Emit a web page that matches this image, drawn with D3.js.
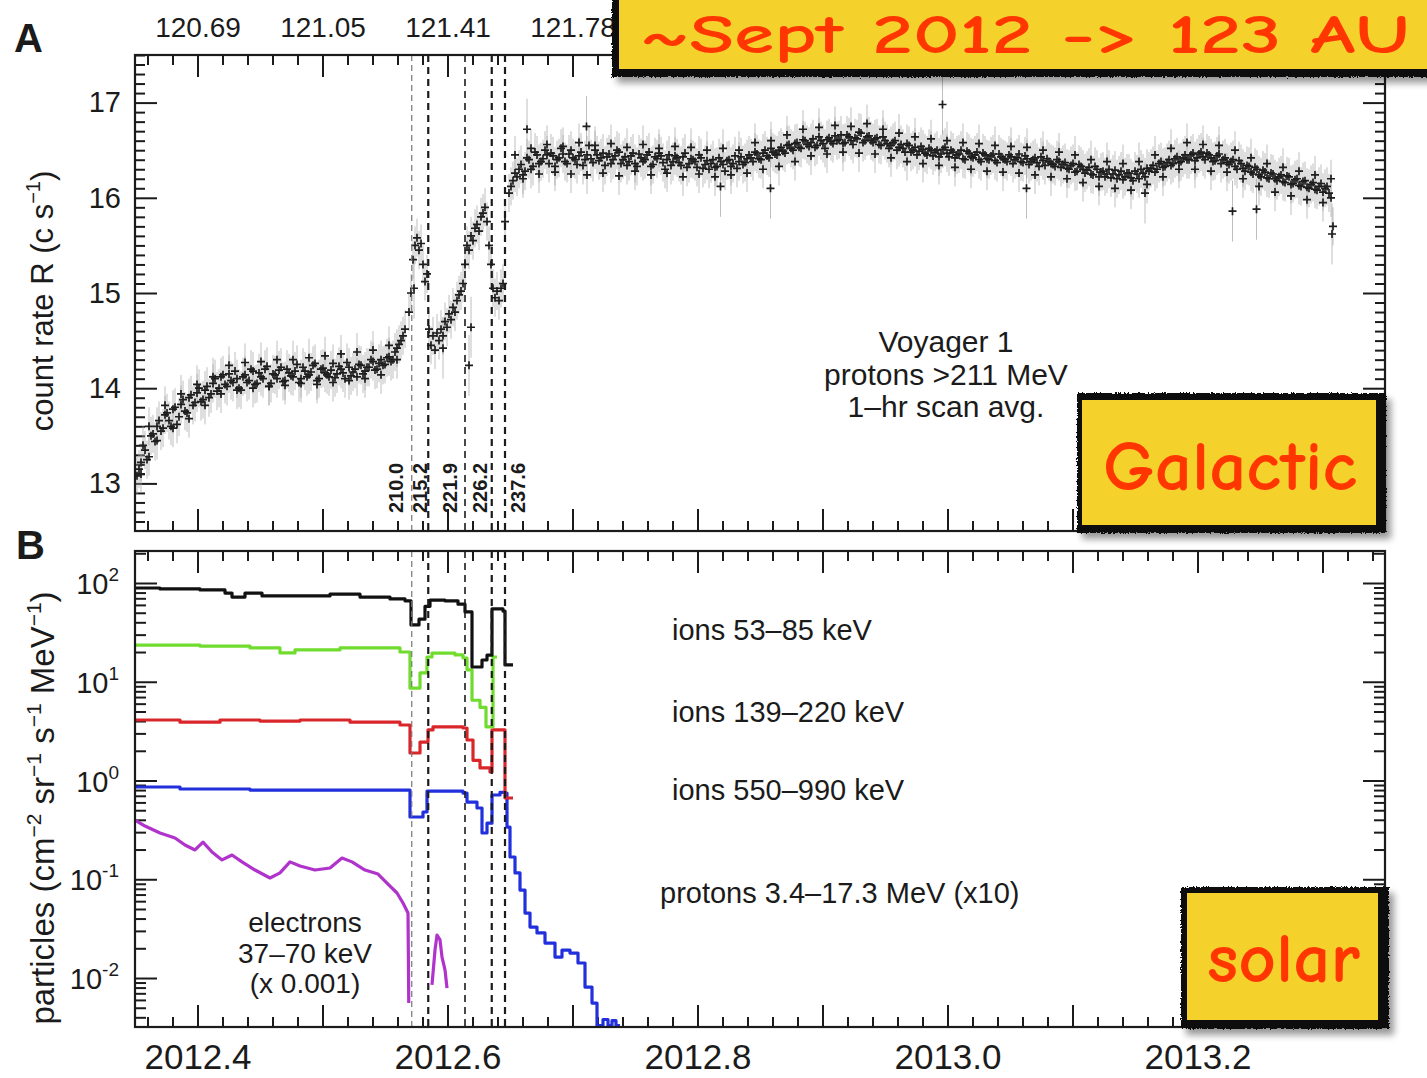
<!DOCTYPE html>
<html>
<head>
<meta charset="utf-8">
<script src="https://cdn.jsdelivr.net/npm/d3@7"></script>
<style>
  html, body { margin: 0; padding: 0; background: #ffffff; }
  svg { display: block; }
</style>
</head>
<body>
<svg id="chart" width="1427" height="1078"></svg>
<script>
// ---------------------------------------------------------------------------
// Voyager 1 — galactic cosmic rays (A) and low-energy particles (B), 2012–2013
// ---------------------------------------------------------------------------

// Time axis (decimal year)
const yearDomain = [2012.35, 2013.35];
const yearTicks = [2012.4, 2012.6, 2012.8, 2013.0, 2013.2];
const yearLabels = ["2012.4", "2012.6", "2012.8", "2013.0", "2013.2"];

// Heliocentric distance (AU) shown on the upper axis
const distanceTicks = [2012.4, 2012.5, 2012.6, 2012.7];
const distanceLabels = ["120.69", "121.05", "121.41", "121.78"];

// Panel A count-rate axis
const rateDomain = [12.5, 17.5];
const rateTicks = [13, 14, 15, 16, 17];

// Panel B flux axis (log10 limits and labelled decades)
const fluxLogDomain = [-2.496, 2.324];
const fluxDecades = [-2, -1, 0, 1, 2];

// Boundary crossings (dashed lines) and their day-of-year labels
const boundaryYears = [2012.5714, 2012.5846, 2012.614, 2012.6354, 2012.646];
const boundaryDays = ["210.0", "215.2", "221.9", "226.2", "237.6"];

// Protons >211 MeV, 1-hr scan averages (c/s), evenly spaced within each span.
// Each stretch is stored as interleaved sets of scans.
const riseSpan = [2012.3516, 2012.566];
const riseRates = [
  13.08,13.22,13.35,13.28,13.52,13.6,13.55,13.72,13.66,13.78,
  13.62,13.83,13.76,13.9,13.82,13.95,13.86,13.98,13.9,14.05,
  13.97,14.12,14.04,14.15,14.06,14.1,13.98,14.14,14.08,14.18,
  14.05,14.12,14.2,14.02,14.15,14.1,14.22,14.08,14.16,14.12,
  14.25,14.1,14.18,14.14,14.24,14.08,14.2,14.16,14.12,14.26,
  14.15,14.2,14.1,14.22,14.17,14.12,14.24,14.18,14.22,14.28,
  14.2,14.3,14.25,14.33,14.3,14.42,14.5,14.62
];
const riseSpanB = [2012.3532, 2012.5644];
const riseRatesB = [
  13.15,13.4,13.25,13.5,13.44,13.66,13.58,13.74,13.6,13.8,
  13.7,13.88,13.74,13.93,13.85,14.0,13.88,14.02,13.94,14.1,
  14.0,14.14,14.02,14.08,14.18,14.0,14.12,14.06,14.2,14.04,
  14.16,14.1,14.23,14.05,14.14,14.19,14.07,14.2,14.13,14.18,
  14.06,14.22,14.12,14.17,14.26,14.1,14.21,14.14,14.19,14.11,
  14.23,14.16,14.27,14.13,14.2,14.25,14.15,14.22,14.3,14.19,
  14.26,14.24,14.32,14.28,14.38,14.46,14.55
];
const riseSpanC = [2012.3548, 2012.5596];
const riseRatesC = [
  13.1,13.6,13.45,13.82,13.58,13.94,13.68,14.04,13.82,14.12,
  13.94,14.24,13.98,14.27,14.0,14.28,14.02,14.3,14.03,14.3,
  14.05,14.32,14.04,14.34,14.06,14.36,14.08,14.38,14.1,14.4,
  14.14,14.45,14.3
];
const crossingSpan = [2012.5692, 2012.646];
const crossingRates = [
  14.8,15.0,15.35,15.5,15.58,15.45,15.52,15.3,15.12,15.2,
  14.62,14.45,14.55,14.4,14.58,14.5,14.62,14.55,14.7,14.64,
  14.78,14.72,14.85,14.8,14.92,14.98,15.02,15.1,15.3,15.5,
  15.45,15.6,15.55,15.68,15.72,15.65,15.8,15.84,15.9,15.75,
  15.5,15.3,15.05,14.95,15.02,14.92,15.05,15.1,15.75
];
const plateauSpan = [2012.6492, 2013.3084];
const plateauRates = [
  16.05,16.18,16.22,16.35,16.28,16.4,16.33,16.45,16.38,16.5,
  16.36,16.44,16.4,16.52,16.38,16.46,16.42,16.35,16.48,16.4,
  16.55,16.37,16.45,16.42,16.34,16.46,16.4,16.5,16.36,16.43,
  16.38,16.47,16.33,16.42,16.4,16.48,16.35,16.41,16.44,16.3,
  16.45,16.38,16.42,16.34,16.47,16.36,16.4,16.32,16.42,16.35,
  16.3,16.4,16.33,16.38,16.28,16.4,16.36,16.31,16.43,16.37,
  16.45,16.38,16.46,16.4,16.5,16.42,16.48,16.45,16.53,16.47,
  16.56,16.5,16.58,16.52,16.6,16.54,16.62,16.55,16.6,16.52,
  16.63,16.57,16.6,16.66,16.58,16.64,16.56,16.62,16.68,16.6,
  16.65,16.58,16.63,16.55,16.6,16.52,16.58,16.5,16.56,16.48,
  16.55,16.5,16.45,16.54,16.47,16.52,16.44,16.5,16.46,16.53,
  16.43,16.48,16.45,16.5,16.4,16.47,16.42,16.48,16.38,16.45,
  16.4,16.46,16.37,16.43,16.4,16.45,16.36,16.42,16.38,16.44,
  16.35,16.4,16.37,16.43,16.34,16.38,16.35,16.4,16.32,16.37,
  16.3,16.36,16.28,16.33,16.26,16.32,16.24,16.3,16.27,16.22,
  16.3,16.25,16.2,16.28,16.22,16.26,16.18,16.25,16.3,16.22,
  16.28,16.34,16.3,16.38,16.33,16.4,16.36,16.43,16.38,16.45,
  16.4,16.47,16.42,16.48,16.4,16.45,16.38,16.44,16.36,16.42,
  16.35,16.4,16.3,16.36,16.28,16.33,16.25,16.3,16.22,16.27,
  16.2,16.25,16.18,16.24,16.16,16.22,16.15,16.2,16.12,16.18,
  16.1,16.16,16.08,16.15,16.1,16.05,15.7
];
const plateauSpanB = [2012.6508, 2013.3068];
const plateauRatesB = [
  16.12,16.26,16.3,16.24,16.42,16.3,16.48,16.36,16.41,16.45,
  16.47,16.33,16.42,16.46,16.36,16.5,16.4,16.44,16.34,16.45,
  16.41,16.5,16.39,16.47,16.43,16.36,16.44,16.48,16.4,16.34,
  16.44,16.36,16.46,16.38,16.45,16.33,16.43,16.47,16.37,16.4,
  16.34,16.44,16.37,16.43,16.32,16.41,16.38,16.45,16.31,16.39,
  16.36,16.32,16.42,16.35,16.39,16.33,16.44,16.38,16.35,16.41,
  16.42,16.48,16.41,16.47,16.44,16.52,16.46,16.5,16.49,16.55,
  16.52,16.57,16.53,16.61,16.56,16.58,16.53,16.64,16.57,16.61,
  16.59,16.65,16.61,16.57,16.66,16.6,16.63,16.69,16.58,16.64,
  16.6,16.62,16.56,16.64,16.57,16.55,16.6,16.53,16.52,16.57,
  16.48,16.53,16.49,16.51,16.45,16.5,16.48,16.43,16.51,16.47,
  16.5,16.42,16.46,16.41,16.49,16.43,16.45,16.4,16.47,16.41,
  16.44,16.39,16.46,16.41,16.38,16.43,16.4,16.46,16.37,16.41,
  16.38,16.42,16.33,16.39,16.41,16.36,16.33,16.38,16.35,16.31,
  16.34,16.27,16.35,16.3,16.29,16.25,16.33,16.22,16.28,16.25,
  16.21,16.29,16.24,16.19,16.26,16.21,16.28,16.2,16.26,16.31,
  16.31,16.27,16.36,16.32,16.37,16.34,16.41,16.37,16.42,16.4,
  16.45,16.39,16.46,16.43,16.47,16.42,16.39,16.46,16.4,16.37,
  16.38,16.33,16.39,16.31,16.34,16.27,16.32,16.24,16.29,16.21,
  16.26,16.2,16.22,16.17,16.23,16.14,16.19,16.13,16.17,16.11,
  16.14,16.09,16.12,16.06,16.12,16.0
];
const plateauSpanC = [2012.654, 2013.3068];
const plateauRatesC = [
  16.45,16.2,16.52,16.25,16.56,16.27,16.54,16.25,16.58,16.24,
  16.55,16.26,16.57,16.23,16.53,16.28,16.56,16.24,16.52,16.26,
  16.54,16.22,16.53,16.25,16.5,16.22,16.52,16.24,16.5,16.26,
  16.58,16.3,16.6,16.33,16.66,16.38,16.72,16.44,16.74,16.46,
  16.76,16.48,16.75,16.47,16.78,16.46,16.72,16.42,16.68,16.38,
  16.64,16.36,16.62,16.34,16.6,16.32,16.58,16.3,16.57,16.28,
  16.55,16.27,16.54,16.26,16.53,16.24,16.5,16.22,16.48,16.2,
  16.45,16.16,16.4,16.12,16.38,16.1,16.36,16.08,16.38,16.14,
  16.45,16.22,16.52,16.3,16.58,16.3,16.56,16.28,16.55,16.27,
  16.5,16.2,16.42,16.12,16.36,16.06,16.32,16.02,16.28,15.98,
  16.24,15.95,16.2
];
// Isolated scans with larger uncertainty: [year, rate]
const rateOutliers = [
  [2012.5732, 15.05], [2012.5964, 14.42], [2012.6172, 14.24], [2012.6188, 14.64],
  [2012.6636, 16.72], [2012.7112, 16.75], [2012.8184, 16.12], [2012.8584, 16.1],
  [2012.9960, 16.98], [2013.0632, 16.1], [2013.1580, 16.05], [2013.2280, 15.86],
  [2013.2472, 15.88], [2013.3076, 15.62]
];
const scanError = 0.2;
const outlierError = 0.32;

// Panel B intensities, [year, particles / (cm^2 sr s MeV)]
const ions53to85 = [
  [2012.350,89],[2012.370,87],[2012.402,85],[2012.422,79],[2012.4276,72],[2012.438,79],
  [2012.4516,74],[2012.482,74],[2012.506,77],[2012.530,72],[2012.554,69],[2012.566,66],
  [2012.5708,37.6],[2012.5772,43],[2012.582,58],[2012.586,67],[2012.598,66],[2012.6084,61],
  [2012.614,51],[2012.6196,14.1],[2012.6276,16.6],[2012.6316,18.6],[2012.6356,54.6],
  [2012.6444,52],[2012.646,14.8],[2012.6524,14.8]
];
const ions139to220 = [
  [2012.350,23.5],[2012.402,23],[2012.442,22],[2012.466,19.6],[2012.478,21],[2012.514,22],
  [2012.546,22],[2012.562,20],[2012.570,8.6],[2012.578,12.3],[2012.5836,17.8],[2012.5876,19.5],
  [2012.606,18.7],[2012.6124,17.4],[2012.6156,13.2],[2012.6196,6.5],[2012.626,5.5],
  [2012.6308,3.5],[2012.6364,17.8],[2012.6396,17.8]
];
const ions550to990 = [
  [2012.350,4.1],[2012.386,3.9],[2012.418,4.1],[2012.450,4.0],[2012.482,4.1],[2012.522,3.9],
  [2012.562,3.65],[2012.570,1.9],[2012.578,2.45],[2012.5844,3.25],[2012.5884,3.5],
  [2012.6124,3.4],[2012.6156,2.57],[2012.6204,1.6],[2012.626,1.34],[2012.634,1.22],
  [2012.6356,3.25],[2012.646,0.665],[2012.6524,0.665]
];
const protons3to17 = [
  [2012.350,0.86],[2012.386,0.82],[2012.442,0.80],[2012.506,0.80],[2012.562,0.80],
  [2012.570,0.427],[2012.5804,0.48],[2012.5836,0.78],[2012.594,0.78],[2012.6124,0.746],
  [2012.6156,0.605],[2012.6236,0.527],[2012.6276,0.294],[2012.6316,0.37],[2012.6356,0.713],
  [2012.642,0.76],[2012.646,0.746],[2012.6476,0.338],[2012.650,0.168],[2012.654,0.116],
  [2012.658,0.0778],[2012.662,0.0455],[2012.666,0.0328],[2012.6716,0.0286],[2012.678,0.0226],
  [2012.686,0.0163],[2012.6916,0.0192],[2012.698,0.0179],[2012.7044,0.0142],[2012.710,0.0081],
  [2012.7156,0.00558],[2012.7196,0.0033],[2012.7244,0.0038],[2012.7284,0.0033],
  [2012.7316,0.0037],[2012.7348,0.0033],[2012.738,0.0033]
];
const electrons37to70 = [
  [2012.350,0.398],[2012.358,0.346],[2012.370,0.294],[2012.382,0.262],[2012.390,0.222],
  [2012.398,0.198],[2012.4044,0.238],[2012.4116,0.189],[2012.4196,0.157],[2012.4276,0.176],
  [2012.4356,0.15],[2012.446,0.124],[2012.458,0.103],[2012.466,0.116],[2012.474,0.15],
  [2012.482,0.136],[2012.494,0.124],[2012.506,0.13],[2012.5156,0.164],[2012.5236,0.15],
  [2012.534,0.124],[2012.5444,0.113],[2012.5516,0.0916],[2012.5596,0.0726],[2012.5644,0.0575],
  [2012.5684,0.0455],[2012.5690,0.00558]
];
const electronsBurst = [
  [2012.5876,0.0085],[2012.590,0.0192],[2012.5916,0.0272],[2012.594,0.0243],
  [2012.5956,0.0163],[2012.598,0.0121],[2012.5996,0.0079]
];

// ---------------------------------------------------------------------------
const FONT = '"Liberation Sans", Arial, Helvetica, sans-serif';
const NOTE_FONT = '"Comic Sans MS", "Comic Neue", Lato, "Open Sans", sans-serif';
const INK = "#1b1b1b";
const L = 135, R = 1385;
const A = { top: 55, bottom: 531 };
const B = { top: 551, bottom: 1027 };

const svg = d3.select("#chart");
const defs = svg.append("defs");

const x = d3.scaleLinear().domain(yearDomain).range([L, R]);
const yA = d3.scaleLinear().domain(rateDomain).range([A.bottom, A.top]);
const yB = d3.scaleLog().domain(fluxLogDomain.map(v => Math.pow(10, v))).range([B.bottom, B.top]);

const majorYears = d3.range(4, 14).map(k => +(2012 + k / 10).toFixed(1));
const minorYears = d3.range(0, 50).map(k => +(2012.36 + k * 0.02).toFixed(2))
  .filter(v => Math.abs(v * 10 - Math.round(v * 10)) > 1e-6);
const minorRates = d3.range(126, 176).map(k => k / 10).filter(v => v % 1 !== 0);
const majorFlux = fluxDecades.map(d => Math.pow(10, d));
const minorFlux = [];
for (let d = -3; d <= 2; d++) for (let m = 2; m <= 9; m++) {
  const v = m * Math.pow(10, d);
  if (v > yB.domain()[0] && v < yB.domain()[1]) minorFlux.push(v);
}

function styleAxis(sel, size) {
  sel.select(".domain").remove();
  sel.attr("font-family", FONT).attr("font-size", size || 28);
  sel.selectAll(".tick line").attr("stroke", INK).attr("stroke-width", 2);
  sel.selectAll(".tick text").attr("fill", INK);
}

function xAxes(yPos, top, labelFn, pad, size) {
  const make = top ? d3.axisTop : d3.axisBottom;
  svg.append("g").attr("transform", `translate(0,${yPos})`)
    .call(make(x).tickValues(minorYears).tickSize(-10).tickSizeOuter(0).tickFormat(""))
    .call(s => styleAxis(s));
  svg.append("g").attr("transform", `translate(0,${yPos})`)
    .call(make(x).tickValues(majorYears).tickSize(-22).tickSizeOuter(0)
      .tickPadding(pad || 10).tickFormat(labelFn || (() => "")))
    .call(s => styleAxis(s, size || 28));
}

// ---------------- Panel A ----------------
xAxes(A.top, true, d => {
  const i = distanceTicks.findIndex(v => Math.abs(v - d) < 1e-6);
  return i >= 0 ? distanceLabels[i] : "";
}, 18, 28);
xAxes(A.bottom, false);

svg.append("g").attr("transform", `translate(${L},0)`)
  .call(d3.axisLeft(yA).tickValues(minorRates).tickSize(-10).tickSizeOuter(0).tickFormat(""))
  .call(s => styleAxis(s));
svg.append("g").attr("transform", `translate(${L},0)`)
  .call(d3.axisLeft(yA).tickValues(rateTicks).tickSize(-22).tickSizeOuter(0).tickPadding(14).tickFormat(d3.format("d")))
  .call(s => styleAxis(s, 29));
svg.append("g").attr("transform", `translate(${R},0)`)
  .call(d3.axisRight(yA).tickValues(minorRates).tickSize(-10).tickSizeOuter(0).tickFormat(""))
  .call(s => styleAxis(s));
svg.append("g").attr("transform", `translate(${R},0)`)
  .call(d3.axisRight(yA).tickValues(rateTicks).tickSize(-22).tickSizeOuter(0).tickFormat(""))
  .call(s => styleAxis(s));

// scan averages
function spread(span, rates) {
  const n = rates.length;
  return rates.map((r, i) => ({ t: span[0] + i * (span[1] - span[0]) / (n - 1), r, e: scanError }));
}
const scans = [].concat(
  spread(riseSpanC, riseRatesC),
  spread(plateauSpanC, plateauRatesC),
  spread(riseSpan, riseRates),
  spread(riseSpanB, riseRatesB),
  spread(crossingSpan, crossingRates),
  spread(plateauSpan, plateauRates),
  spread(plateauSpanB, plateauRatesB),
  rateOutliers.map(([t, r]) => ({ t, r, e: outlierError }))
);

defs.append("clipPath").attr("id", "clipA").append("rect")
  .attr("x", L).attr("y", A.top).attr("width", R - L).attr("height", A.bottom - A.top);
const scanLayer = svg.append("g").attr("clip-path", "url(#clipA)");
scanLayer.append("g").selectAll("line").data(scans).join("line")
  .attr("x1", d => x(d.t)).attr("x2", d => x(d.t))
  .attr("y1", d => yA(d.r - d.e)).attr("y2", d => yA(d.r + d.e))
  .attr("stroke", "#a8a8a8").attr("stroke-width", 1).attr("stroke-opacity", 0.75);
scanLayer.append("g").selectAll("path").data(scans).join("path")
  .attr("d", d => {
    const px = x(d.t), py = yA(d.r);
    return `M${px - 4},${py}h8M${px},${py - 4}v8`;
  })
  .attr("stroke", "#1e1e1e").attr("stroke-width", 1.7).attr("fill", "none");

// ---------------- Panel B ----------------
xAxes(B.top, true);
xAxes(B.bottom, false, d => {
  const i = yearTicks.findIndex(v => Math.abs(v - d) < 1e-6);
  return i >= 0 ? yearLabels[i] : "";
}, 17, 35);

[[L, d3.axisLeft], [R, d3.axisRight]].forEach(([pos, make]) => {
  svg.append("g").attr("transform", `translate(${pos},0)`)
    .call(make(yB).tickValues(minorFlux).tickSize(-11).tickSizeOuter(0).tickFormat(""))
    .call(s => styleAxis(s));
  svg.append("g").attr("transform", `translate(${pos},0)`)
    .call(make(yB).tickValues(majorFlux).tickSize(-22).tickSizeOuter(0).tickFormat(""))
    .call(s => styleAxis(s));
});

const decadeLabels = svg.append("g").attr("font-family", FONT).attr("fill", INK);
fluxDecades.forEach(d => {
  const t = decadeLabels.append("text")
    .attr("x", 119).attr("y", yB(Math.pow(10, d)) + 11)
    .attr("text-anchor", "end").attr("font-size", 29);
  t.append("tspan").text("10");
  t.append("tspan").attr("dy", -13).attr("font-size", 19).text(d < 0 ? "-" + Math.abs(d) : String(d));
});

defs.append("clipPath").attr("id", "clipB").append("rect")
  .attr("x", L).attr("y", B.top).attr("width", R - L).attr("height", B.bottom - B.top);
const fluxLayer = svg.append("g").attr("clip-path", "url(#clipB)").attr("fill", "none");
const stepLine = d3.line().x(d => x(d[0])).y(d => yB(d[1])).curve(d3.curveStepAfter);
const plainLine = d3.line().x(d => x(d[0])).y(d => yB(d[1]));
[
  [electrons37to70, "#b033cc", plainLine],
  [electronsBurst, "#b033cc", plainLine],
  [protons3to17, "#2130dc", stepLine],
  [ions550to990, "#d9262b", stepLine],
  [ions139to220, "#6fdc2e", stepLine],
  [ions53to85, "#111111", stepLine]
].forEach(([series, color, gen]) => {
  fluxLayer.append("path").attr("d", gen(series))
    .attr("stroke", color).attr("stroke-width", 3.2)
    .attr("stroke-linejoin", "round");
});

// ---------------- Boundary lines ----------------
[A, B].forEach(p => {
  svg.append("g").selectAll("line").data(boundaryYears).join("line")
    .attr("x1", d => x(d)).attr("x2", d => x(d))
    .attr("y1", p.top).attr("y2", p.bottom)
    .attr("stroke", (d, i) => i === 0 ? "#777" : INK)
    .attr("stroke-width", (d, i) => i === 0 ? 1.2 : (i === 2 ? 1.6 : 2.2))
    .attr("stroke-dasharray", (d, i) => i === 0 ? "6,4" : "7,5");
});
const labelShift = [-9, -1, -8, -5, 20];
svg.append("g").selectAll("text").data(boundaryDays).join("text")
  .attr("transform", (d, i) => `translate(${x(boundaryYears[i]) + labelShift[i]},513) rotate(-90)`)
  .attr("font-family", FONT).attr("font-size", 20).attr("font-weight", "bold")
  .attr("fill", INK).text(d => d);

// ---------------- Frames ----------------
[A, B].forEach(p => {
  svg.append("rect").attr("x", L).attr("y", p.top)
    .attr("width", R - L).attr("height", p.bottom - p.top)
    .attr("fill", "none").attr("stroke", INK).attr("stroke-width", 2.2);
});

// ---------------- Text ----------------
const txt = svg.append("g").attr("font-family", FONT).attr("fill", INK);
txt.append("text").attr("x", 14).attr("y", 52).attr("font-size", 40).attr("font-weight", "bold").text("A");
txt.append("text").attr("x", 16).attr("y", 559).attr("font-size", 40).attr("font-weight", "bold").text("B");

const ylabA = txt.append("text").attr("transform", "translate(53,301) rotate(-90)")
  .attr("text-anchor", "middle").attr("font-size", 31);
ylabA.append("tspan").text("count rate R (c s");
ylabA.append("tspan").attr("dy", -13).attr("font-size", 20).text("\u22121");
ylabA.append("tspan").attr("dy", 13).text(")");

const ylabB = txt.append("text").attr("transform", "translate(54,808) rotate(-90)")
  .attr("text-anchor", "middle").attr("font-size", 33);
[["particles (cm", "\u22122"], [" sr", "\u22121"], [" s", "\u22121"], [" MeV", "\u22121"]].forEach(([base, sup], i) => {
  ylabB.append("tspan").attr("dy", i === 0 ? 0 : 13).text(base);
  ylabB.append("tspan").attr("dy", -13).attr("font-size", 21).text(sup);
});
ylabB.append("tspan").attr("dy", 13).text(")");

[["Voyager 1", 352], ["protons >211 MeV", 385], ["1\u2013hr scan avg.", 417]].forEach(([s, y]) => {
  txt.append("text").attr("x", 946).attr("y", y).attr("text-anchor", "middle")
    .attr("font-size", 30).text(s);
});

[["ions 53\u201385 keV", 672, 640], ["ions 139\u2013220 keV", 672, 722],
 ["ions 550\u2013990 keV", 672, 800], ["protons 3.4\u201317.3 MeV (x10)", 660, 903]].forEach(([s, xx, y]) => {
  txt.append("text").attr("x", xx).attr("y", y).attr("font-size", 29).text(s);
});
[["electrons", 932], ["37\u201370 keV", 963], ["(x 0.001)", 993]].forEach(([s, y]) => {
  txt.append("text").attr("x", 305).attr("y", y).attr("text-anchor", "middle")
    .attr("font-size", 28).text(s);
});

// ---------------- Yellow callouts ----------------
const shadow = defs.append("filter").attr("id", "shadow")
  .attr("x", "-10%").attr("y", "-10%").attr("width", "130%").attr("height", "140%");
shadow.append("feGaussianBlur").attr("stdDeviation", 3.5);
const rough = defs.append("filter").attr("id", "rough")
  .attr("x", "-5%").attr("y", "-5%").attr("width", "110%").attr("height", "110%");
rough.append("feTurbulence").attr("type", "fractalNoise").attr("baseFrequency", 0.6)
  .attr("numOctaves", 2).attr("seed", 3).attr("result", "noise");
rough.append("feDisplacementMap").attr("in", "SourceGraphic").attr("in2", "noise")
  .attr("scale", 4).attr("xChannelSelector", "R").attr("yChannelSelector", "G");

function callout(outer, inner, label, tx, ty, size, len) {
  const g = svg.append("g");
  g.append("rect").attr("x", outer[0] + 5).attr("y", outer[1] + 6)
    .attr("width", outer[2] - outer[0]).attr("height", outer[3] - outer[1])
    .attr("fill", "#000").attr("opacity", 0.4).attr("filter", "url(#shadow)");
  g.append("rect").attr("x", outer[0]).attr("y", outer[1])
    .attr("width", outer[2] - outer[0]).attr("height", outer[3] - outer[1])
    .attr("fill", "#0a0a0a").attr("filter", "url(#rough)");
  g.append("rect").attr("x", inner[0]).attr("y", inner[1])
    .attr("width", inner[2] - inner[0]).attr("height", inner[3] - inner[1])
    .attr("fill", "#f5d12c");
  g.append("text").attr("x", tx).attr("y", ty)
    .attr("font-family", NOTE_FONT).attr("font-weight", "bold")
    .attr("font-size", size).attr("fill", "#ff3600")
    .attr("textLength", len).attr("lengthAdjust", "spacingAndGlyphs")
    .text(label);
}
callout([612, -14, 1450, 77], [619, -14, 1450, 69], "~Sept 2012 -> 123 AU", 640, 53, 54, 770);
callout([1077, 393, 1386, 533], [1082, 400, 1376, 525], "Galactic", 1103, 490, 70, 254);
callout([1181, 887, 1389, 1029], [1187, 893, 1378, 1020], "solar", 1207, 982, 70, 153);
</script>
</body>
</html>
